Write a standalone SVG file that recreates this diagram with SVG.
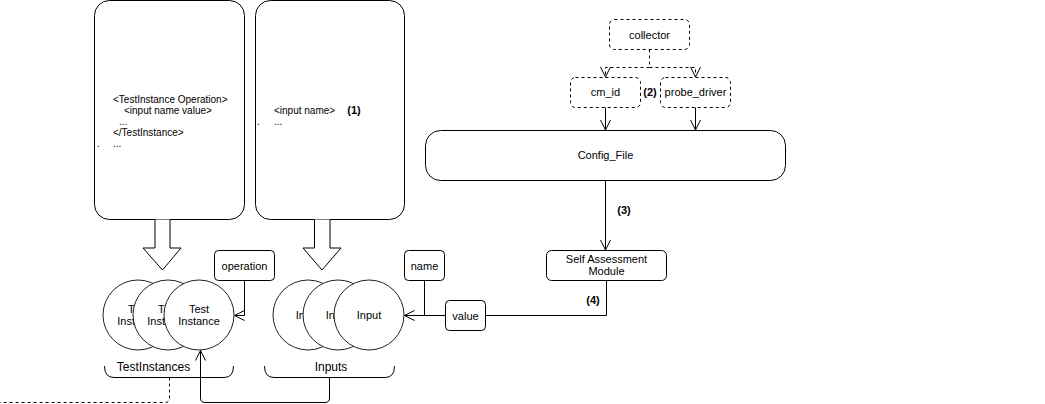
<svg xmlns="http://www.w3.org/2000/svg" width="1045" height="404" viewBox="0 0 1045 404">
<style>
  text { font-family: "Liberation Sans", Arial, sans-serif; fill: #000; }
  .lbl { font-size: 11px; text-anchor: middle; }
  .num { font-size: 11px; font-weight: bold; text-anchor: middle; }
  .box { fill: #fff; stroke: #000; stroke-width: 1; }
  .dbox { fill: #fff; stroke: #000; stroke-width: 1; stroke-dasharray: 3 3; }
  .circ { fill: #fff; stroke: #222; stroke-width: 1; }
  .edge { fill: none; stroke: #000; stroke-width: 1; }
  .dedge { fill: none; stroke: #000; stroke-width: 1; stroke-dasharray: 3 3; }
  .big { font-size: 10px; }
</style>
<defs>
  <marker id="open" viewBox="0 0 12 12" refX="11" refY="6" markerWidth="12" markerHeight="12" markerUnits="userSpaceOnUse" orient="auto">
    <path d="M1,1 L11,6 L1,11" fill="none" stroke="#000" stroke-width="1"/>
  </marker>
</defs>

<g id="testinstance-doc">
  <rect class="box" x="94.5" y="0.5" width="150" height="219" rx="15"/>
  <text class="big" x="113" y="102.5">&lt;TestInstance Operation&gt;</text>
  <text class="big" x="124" y="113.5">&lt;input name value&gt;</text>
  <text class="big" x="119" y="124.5">...</text>
  <text class="big" x="113" y="135.5">&lt;/TestInstance&gt;</text>
  <text class="big" x="97" y="146.5">.</text>
  <text class="big" x="113" y="146.5">...</text>
</g>

<g id="input-doc">
  <rect class="box" x="255.5" y="0.5" width="149" height="219" rx="15"/>
  <text class="big" x="274" y="113.5">&lt;input name&gt;</text>
  <text class="num" x="354" y="114">(1)</text>
  <text class="big" x="257" y="124.5">.</text>
  <text class="big" x="274" y="124.5">...</text>
</g>

<g id="block-arrows">
  <path class="box" d="M155,219.5 L155,248 L143,248 L162.5,270 L181,248 L170,248 L170,219.5"/>
  <path class="box" d="M314.5,219.5 L314.5,248 L303,248 L322,270 L341,248 L330,248 L330,219.5"/>
</g>

<g id="testinstances">
  <circle class="circ" cx="138" cy="315" r="35"/>
  <text class="lbl" x="138" y="313">Test</text>
  <text class="lbl" x="138" y="325">Instance</text>
  <circle class="circ" cx="168" cy="315" r="35"/>
  <text class="lbl" x="168" y="313">Test</text>
  <text class="lbl" x="168" y="325">Instance</text>
  <circle class="circ" cx="199" cy="315" r="35"/>
  <text class="lbl" x="199" y="313">Test</text>
  <text class="lbl" x="199" y="325">Instance</text>
  <path class="edge" d="M104.5,366 Q104.5,377.5 114,377.5 L224,377.5 Q233.5,377.5 233.5,366"/>
  <text style="font-size:12px;text-anchor:middle" x="153.5" y="371">TestInstances</text>
</g>

<g id="inputs">
  <circle class="circ" cx="308" cy="315" r="35"/>
  <text class="lbl" x="308" y="319">Input</text>
  <circle class="circ" cx="338" cy="315" r="35"/>
  <text class="lbl" x="338" y="319">Input</text>
  <circle class="circ" cx="369" cy="315" r="35"/>
  <text class="lbl" x="369" y="319">Input</text>
  <path class="edge" d="M264.5,366 Q264.5,377.5 274,377.5 L385,377.5 Q394.5,377.5 394.5,366"/>
  <text style="font-size:12px;text-anchor:middle" x="331" y="371">Inputs</text>
</g>

<g id="operation">
  <rect class="box" x="214.5" y="250.5" width="60" height="30" rx="4"/>
  <text class="lbl" x="244.5" y="269.5">operation</text>
</g>

<g id="name">
  <rect class="box" x="404.5" y="250.5" width="40" height="30" rx="4"/>
  <text class="lbl" x="424.5" y="269.5">name</text>
</g>

<g id="value">
  <rect class="box" x="445.5" y="300.5" width="40" height="30" rx="4"/>
  <text class="lbl" x="465.5" y="319.5">value</text>
</g>

<g id="collector">
  <rect class="dbox" x="609.5" y="19.5" width="80" height="30" rx="5"/>
  <text class="lbl" x="649.5" y="38.5">collector</text>
</g>

<g id="cm_id">
  <rect class="dbox" x="570.5" y="77.5" width="70" height="30" rx="5"/>
  <text class="lbl" x="605.5" y="96">cm_id</text>
</g>

<g id="probe_driver">
  <rect class="dbox" x="660.5" y="77.5" width="70" height="30" rx="5"/>
  <text class="lbl" x="695.5" y="96">probe_driver</text>
</g>

<g id="config_file">
  <rect class="box" x="425.5" y="130.5" width="360" height="50" rx="15"/>
  <text class="lbl" x="605.5" y="159">Config_File</text>
</g>

<g id="self_assessment">
  <rect class="box" x="546.5" y="250.5" width="120" height="30" rx="5"/>
  <text class="lbl" x="606.5" y="263">Self Assessment</text>
  <text class="lbl" x="606.5" y="275">Module</text>
</g>

<g id="connectors">
  <path class="dedge" d="M649.5,49.5 L649.5,67.5 L605.5,67.5 L605.5,77" marker-end="url(#open)"/>
  <path class="dedge" d="M649.5,67.5 L695.5,67.5 L695.5,77" marker-end="url(#open)"/>
  <path class="edge" d="M605.5,107.5 L605.5,130" marker-end="url(#open)"/>
  <path class="edge" d="M695.5,107.5 L695.5,130" marker-end="url(#open)"/>
  <path class="edge" d="M605.5,180.5 L605.5,250" marker-end="url(#open)"/>
  <path class="edge" d="M606.5,280.5 L606.5,315.5 L485.5,315.5"/>
  <path class="edge" d="M445.5,315.5 L404.5,315.5" marker-end="url(#open)"/>
  <path class="edge" d="M424.5,280.5 L424.5,315.5"/>
  <path class="edge" d="M244.5,280.5 L244.5,315.5 L234.5,315.5" marker-end="url(#open)"/>
  <path class="edge" d="M329.5,377.5 L329.5,398 Q329.5,402.5 325,402.5 L205,402.5 Q200.5,402.5 200.5,398 L200.5,350.5" marker-end="url(#open)"/>
  <path class="dedge" d="M169.5,377.5 L169.5,398 Q169.5,402.5 165,402.5 L0,402.5"/>
  <text class="num" x="650" y="96">(2)</text>
  <text class="num" x="624" y="214">(3)</text>
  <text class="num" x="593" y="304">(4)</text>
</g>
</svg>
